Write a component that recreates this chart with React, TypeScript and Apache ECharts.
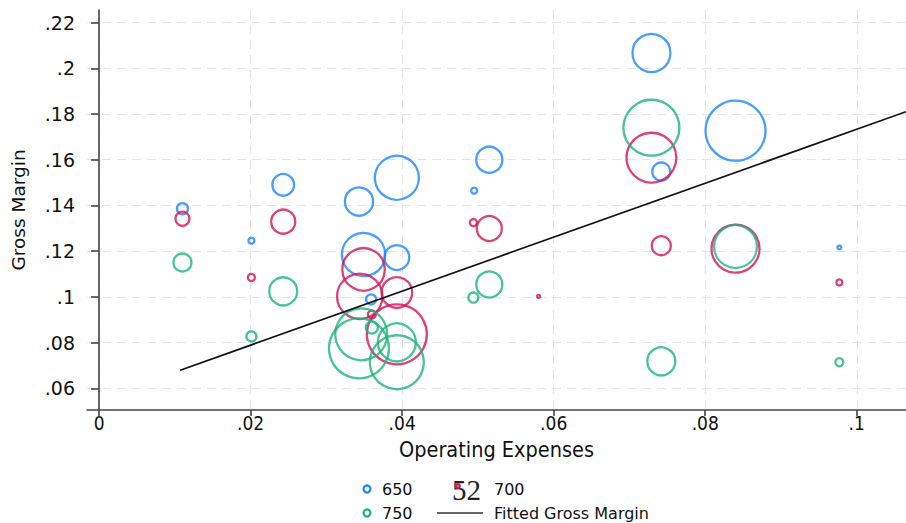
import React, { useEffect, useRef } from 'react';
import * as echarts from 'echarts';

// ---- data ----
const xTicks = [0, 0.02, 0.04, 0.06, 0.08, 0.1];
const yTicks = [0.06, 0.08, 0.1, 0.12, 0.14, 0.16, 0.18, 0.2, 0.22];

const x650 = [0.0110, 0.0201, 0.0243, 0.0343, 0.0349, 0.0393, 0.0393, 0.0359, 0.0495, 0.0515, 0.0729, 0.0742, 0.0840, 0.0977];
const y650 = [0.1386, 0.1246, 0.1490, 0.1417, 0.1185, 0.1521, 0.1172, 0.0989, 0.1465, 0.1600, 0.2067, 0.1548, 0.1727, 0.1216];
const w650 = [3.4, 1, 13, 22, 52, 54, 17, 2.8, 1, 19, 40, 9, 100, 0.4];

const x700 = [0.0110, 0.0201, 0.0243, 0.0349, 0.0344, 0.0393, 0.0393, 0.0360, 0.0494, 0.0515, 0.0580, 0.0729, 0.0742, 0.0840, 0.0977];
const y700 = [0.1342, 0.1085, 0.1329, 0.1120, 0.1002, 0.1019, 0.0836, 0.0923, 0.1325, 0.1299, 0.1002, 0.1609, 0.1224, 0.1211, 0.1063];
const w700 = [5.4, 1.4, 16, 50, 57, 26, 100, 1.8, 1.4, 17.4, 0.25, 69, 10, 64, 1];

const x750 = [0.0110, 0.0201, 0.0243, 0.0346, 0.0343, 0.0393, 0.0393, 0.0360, 0.0494, 0.0515, 0.0729, 0.0742, 0.0840, 0.0977];
const y750 = [0.1150, 0.0827, 0.1024, 0.0836, 0.0775, 0.0801, 0.0714, 0.0866, 0.0997, 0.1054, 0.1740, 0.0718, 0.1220, 0.0714];
const w750 = [9, 2.8, 21.8, 75, 100, 40, 81, 4, 2.8, 18.8, 87, 21.8, 51, 1.8];

const fitX = [0.0107, 0.1065];
const fitY = [0.0679, 0.1810];

const seriesNames = ['650', '700', '750'];
const colors = ['#1a85ff', '#d41159', '#1ab47a'];

function fmt(v: number): string {
  if (Math.abs(v) < 1e-9) return '0';
  return String(+v.toFixed(3)).replace(/^0\./, '.');
}

const SANS = 'DejaVu Sans';
const COND = 'DejaVu Sans Condensed';

export default function App() {
  const ref = useRef<HTMLDivElement>(null);
  useEffect(() => {
    if (!ref.current) return;
    const chart = echarts.init(ref.current, null, { renderer: 'svg' });
    const axisLineStyle = { color: '#444', width: 1.6 };
    const splitStyle = { color: '#e4e4e4', width: 1, type: [9, 6] as any };
    const mk = (xs: number[], ys: number[], ws: number[]) => xs.map((x, i) => [x, ys[i], ws[i]]);
    const scatter = (name: string, data: number[][], color: string) => ({
      type: 'scatter',
      name,
      data,
      symbol: 'circle',
      symbolSize: (d: number[]) => 6 * Math.sqrt(d[2]),
      itemStyle: { color: 'rgba(0,0,0,0)', borderColor: color, borderWidth: 2.3 },
      emphasis: { disabled: true },
      silent: true,
    });
    const legendText = (text: string, x: number, y: number) => ({
      type: 'text', x, y,
      style: { text, fontFamily: SANS, fontSize: 16, fill: '#111', align: 'left', verticalAlign: 'middle' },
    });
    const legendDot = (x: number, y: number, color: string, r = 3.5) => ({
      type: 'circle', shape: { cx: x, cy: y, r },
      style: { fill: 'none', stroke: color, lineWidth: 2.2 },
    });
    chart.setOption({
      animation: false,
      backgroundColor: '#fff',
      grid: { left: 87, right: 0, top: 10, bottom: 113, containLabel: false, outerBoundsMode: 'none' } as any,
      xAxis: {
        type: 'value',
        min: -0.0016,
        max: 0.1065,
        name: 'Operating Expenses',
        nameLocation: 'middle',
        nameGap: 28,
        nameTextStyle: { fontFamily: COND, fontSize: 21.5, color: '#111' },
        axisLine: { show: true, lineStyle: axisLineStyle },
        axisTick: { show: true, length: 6, lineStyle: axisLineStyle, customValues: xTicks },
        axisLabel: { customValues: xTicks, formatter: fmt, fontFamily: COND, fontSize: 19, color: '#111', margin: 3 },
        splitLine: { show: true, lineStyle: splitStyle },
      } as any,
      yAxis: {
        type: 'value',
        min: 0.0505,
        max: 0.2255,
        name: 'Gross Margin',
        nameLocation: 'middle',
        nameGap: 59,
        nameRotate: 90,
        nameTextStyle: { fontFamily: SANS, fontSize: 18.5, color: '#111' },
        axisLine: { show: true, lineStyle: axisLineStyle },
        axisTick: { show: true, length: 8, lineStyle: axisLineStyle, customValues: yTicks },
        axisLabel: { customValues: yTicks, formatter: fmt, fontFamily: SANS, fontSize: 19, color: '#111', margin: 12 },
        splitLine: { show: true, lineStyle: splitStyle },
      } as any,
      series: [
        scatter(seriesNames[0], mk(x650, y650, w650), colors[0]),
        scatter(seriesNames[1], mk(x700, y700, w700), colors[1]),
        scatter(seriesNames[2], mk(x750, y750, w750), colors[2]),
        {
          type: 'line',
          name: 'Fitted Gross Margin',
          data: fitX.map((x, i) => [x, fitY[i]]),
          symbol: 'none',
          clip: true,
          lineStyle: { color: '#111', width: 1.7 },
          silent: true,
          z: 5,
        },
      ],
      graphic: [
        legendDot(367, 489, colors[0]),
        legendText('650', 382, 489),
        {
          type: 'text', x: 452, y: 490,
          style: { text: '52', fontFamily: 'Liberation Serif', fontSize: 29, fill: '#222', align: 'left', verticalAlign: 'middle' },
        },
        legendDot(458, 486, colors[1], 1.8),
        legendText('700', 494, 489),
        legendDot(367, 513, colors[2]),
        legendText('750', 382, 513),
        { type: 'line', shape: { x1: 437, y1: 513, x2: 483, y2: 513 }, style: { stroke: '#333', lineWidth: 1.6 } },
        legendText('Fitted Gross Margin', 494, 513),
      ],
    });
    return () => chart.dispose();
  }, []);
  return <div ref={ref} style={{ position: 'fixed', left: 0, top: 0, width: 906, height: 523 }} />;
}
